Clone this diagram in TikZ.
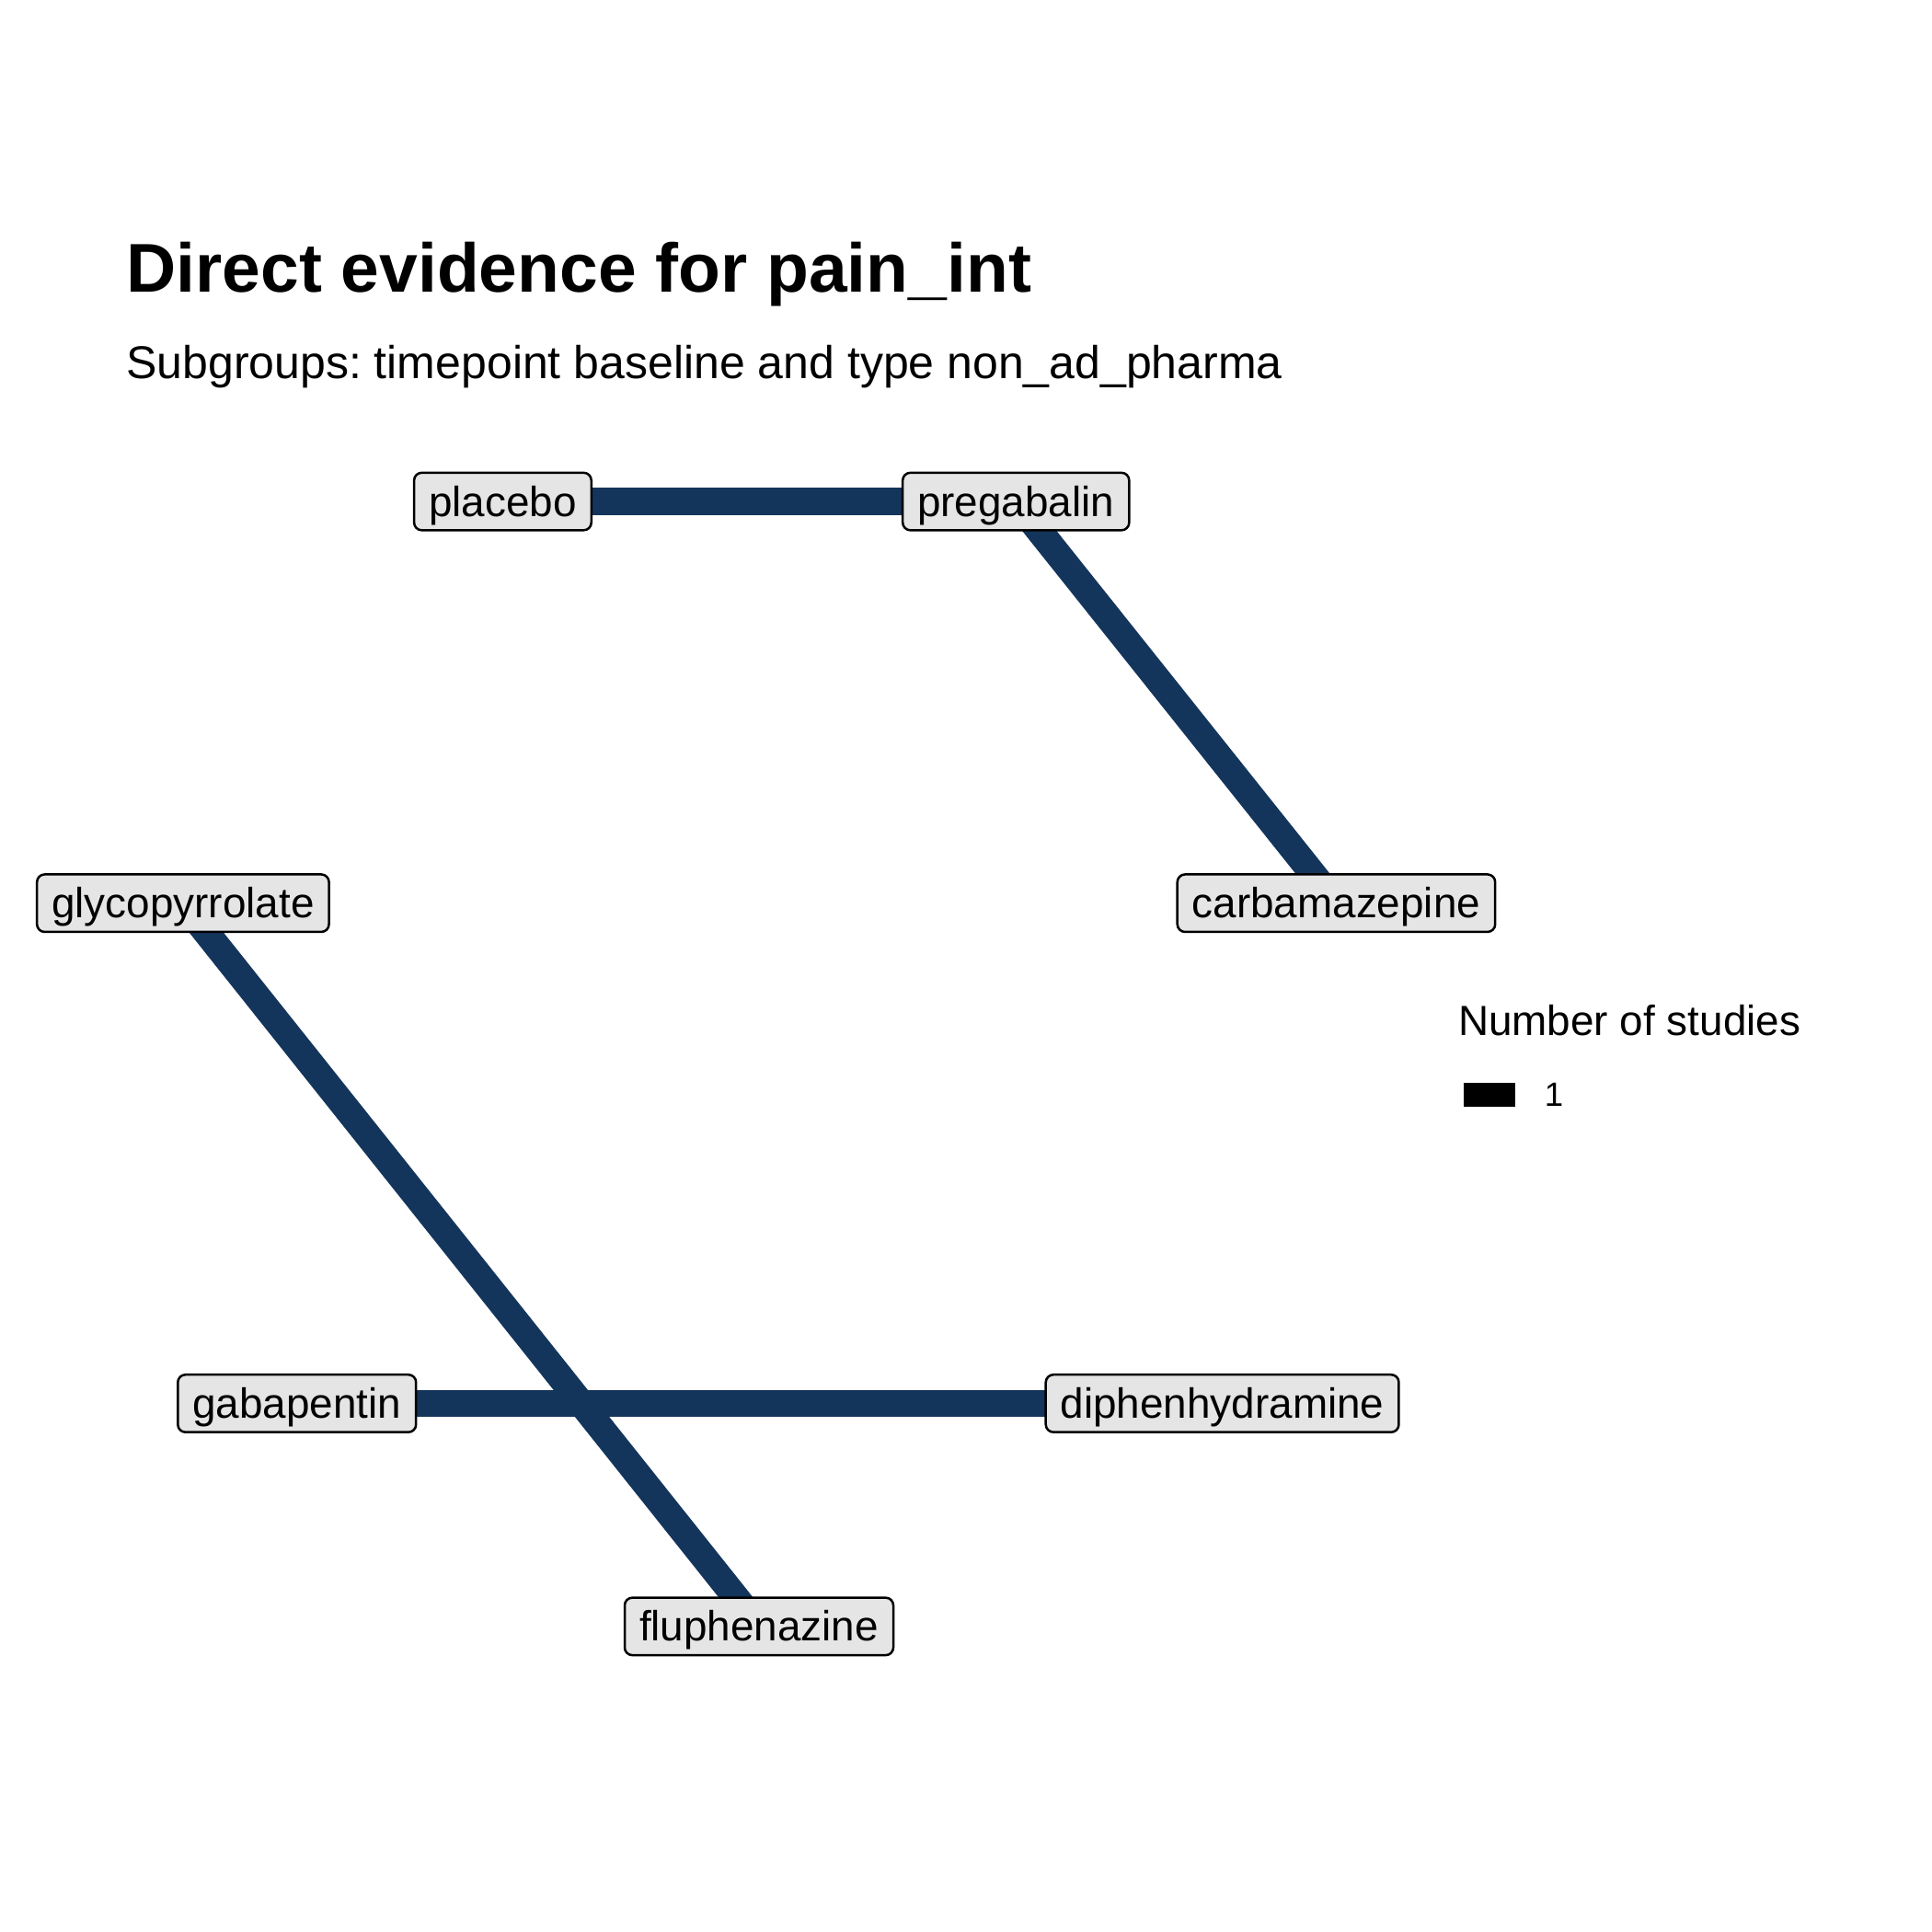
\documentclass[tikz,border=0pt]{standalone}
\usepackage{fontspec}
\setmainfont{Liberation Sans}
\usetikzlibrary{backgrounds}
\definecolor{edgecol}{RGB}{20,53,91}
\definecolor{boxfill}{RGB}{229,229,229}
\frenchspacing
\begin{document}
\begin{tikzpicture}[x=0.32143pt,y=-0.32143pt,
  trt/.style={draw=black,line width=0.6pt,fill=boxfill,rounded corners=2pt,
    font=\fontsize{11}{13}\selectfont,text height=9pt,text depth=1.3pt,
    inner xsep=3.85pt,inner ysep=2.35pt},
  edge/.style={draw=edgecol,line width=7pt},
  txt/.style={inner sep=0pt,anchor=base west}]
\useasboundingbox (0,0) rectangle (1568,1568);
% nodes
\node[trt] (placebo) at (408,407) {placebo};
\node[trt] (pregabalin) at (824.5,407) {pregabalin};
\node[trt] (carbamazepine) at (1084.5,733) {carbamazepine};
\node[trt] (glycopyrrolate) at (148.5,733) {glycopyrrolate};
\node[trt] (gabapentin) at (241,1139) {gabapentin};
\node[trt] (diphenhydramine) at (992,1139) {diphenhydramine};
\node[trt] (fluphenazine) at (616,1320) {fluphenazine};
% edges behind nodes
\begin{scope}[on background layer]
\draw[edge] (placebo.center) -- (pregabalin.center);
\draw[edge] (pregabalin.center) -- (carbamazepine.center);
\draw[edge] (glycopyrrolate.center) -- (fluphenazine.center);
\draw[edge] (gabapentin.center) -- (diphenhydramine.center);
\end{scope}
% titles
\node[txt,font=\fontsize{18}{21}\selectfont\bfseries] (title) at (102,237) {Direct evidence for pain\_int};
\node[txt,font=\fontsize{12}{14}\selectfont] (subtitle) at (102,307) {Subgroups: timepoint baseline and type non\_ad\_pharma};
% legend
\node[txt,font=\fontsize{11}{13}\selectfont] (legtitle) at (1183,840) {Number of studies};
\node[draw=none,fill=black,minimum width=42*0.32143pt,minimum height=19*0.32143pt,inner sep=0pt] (legkey) at (1209,888.5) {};
\node[txt,font=\fontsize{8.8}{10}\selectfont] (leglab) at (1253,898) {1};
\end{tikzpicture}
\end{document}
